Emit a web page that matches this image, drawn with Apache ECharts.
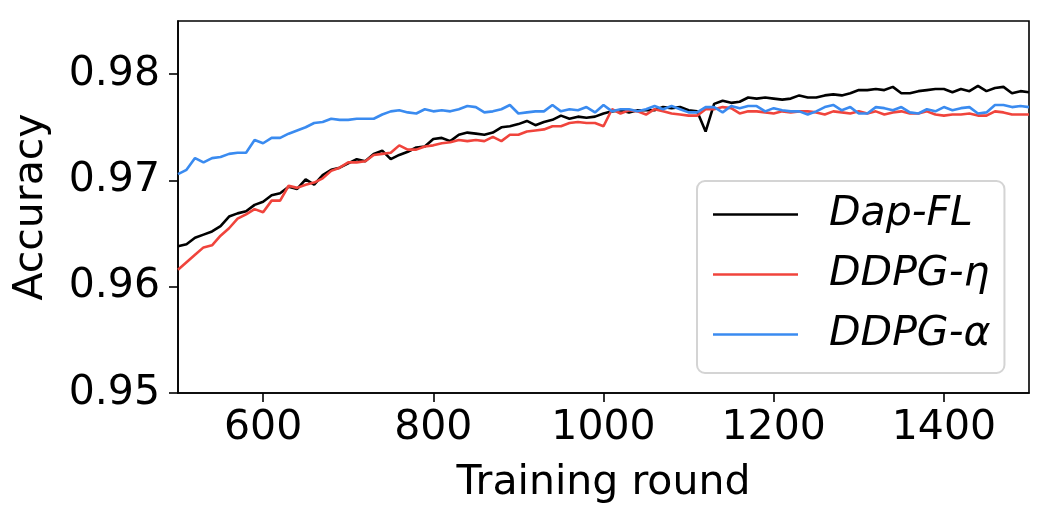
<!DOCTYPE html>
<html lang="en">
<head>
<meta charset="UTF-8">
<title>Accuracy vs training round</title>
<script src="https://cdn.jsdelivr.net/npm/echarts@6/dist/echarts.min.js"></script>
<style>
  html, body { margin: 0; padding: 0; background: #fff; }
  #main { width: 1047px; height: 526px; }
</style>
</head>
<body>
<div id="main"></div>
<script type="text/javascript">
// training rounds (sampled every 10 rounds)
var rounds = [500,510,520,530,540,550,560,570,580,590,600,610,620,630,640,650,660,670,680,690,
  700,710,720,730,740,750,760,770,780,790,800,810,820,830,840,850,860,870,880,890,
  900,910,920,930,940,950,960,970,980,990,1000,1010,1020,1030,1040,1050,1060,1070,1080,1090,
  1100,1110,1120,1130,1140,1150,1160,1170,1180,1190,1200,1210,1220,1230,1240,1250,1260,1270,1280,1290,
  1300,1310,1320,1330,1340,1350,1360,1370,1380,1390,1400,1410,1420,1430,1440,1450,1460,1470,1480,1490,1500];

var dapFL = [0.9638,0.9640,0.9646,0.9649,0.9652,0.9657,0.9666,0.9669,0.9671,0.9677,
  0.9680,0.9686,0.9688,0.9694,0.9692,0.9701,0.9696,0.9705,0.9710,0.9712,
  0.9716,0.9720,0.9718,0.9725,0.9728,0.9720,0.9724,0.9727,0.9731,0.9732,
  0.9739,0.9740,0.9737,0.9743,0.9745,0.9744,0.9743,0.9745,0.9750,0.9751,
  0.9753,0.9756,0.9752,0.9755,0.9757,0.9761,0.9758,0.9760,0.9759,0.9760,
  0.9763,0.9765,0.9766,0.9764,0.9766,0.9766,0.9766,0.9769,0.9768,0.9769,
  0.9766,0.9765,0.9746,0.9772,0.9775,0.9773,0.9774,0.9778,0.9777,0.9778,
  0.9777,0.9776,0.9777,0.9780,0.9778,0.9778,0.9780,0.9781,0.9780,0.9782,
  0.9785,0.9785,0.9786,0.9785,0.9788,0.9782,0.9782,0.9784,0.9785,0.9786,
  0.9786,0.9783,0.9786,0.9784,0.9789,0.9784,0.9787,0.9788,0.9782,0.9784,0.9783];

var ddpgEta = [0.9616,0.9623,0.9630,0.9637,0.9639,0.9648,0.9655,0.9664,0.9668,0.9673,
  0.9670,0.9681,0.9681,0.9695,0.9693,0.9696,0.9698,0.9702,0.9709,0.9712,
  0.9717,0.9717,0.9718,0.9724,0.9725,0.9726,0.9733,0.9729,0.9729,0.9732,
  0.9733,0.9735,0.9736,0.9738,0.9737,0.9738,0.9737,0.9741,0.9737,0.9743,
  0.9743,0.9746,0.9747,0.9748,0.9751,0.9751,0.9754,0.9755,0.9754,0.9754,
  0.9751,0.9767,0.9763,0.9766,0.9765,0.9762,0.9767,0.9765,0.9763,0.9762,
  0.9761,0.9761,0.9767,0.9767,0.9769,0.9768,0.9763,0.9765,0.9765,0.9764,
  0.9763,0.9765,0.9764,0.9765,0.9765,0.9764,0.9762,0.9765,0.9764,0.9763,
  0.9765,0.9763,0.9765,0.9762,0.9764,0.9765,0.9763,0.9763,0.9765,0.9762,
  0.9761,0.9762,0.9762,0.9763,0.9761,0.9761,0.9765,0.9764,0.9762,0.9762,0.9762];

var ddpgAlpha = [0.9706,0.9710,0.9721,0.9717,0.9721,0.9722,0.9725,0.9726,0.9726,0.9738,
  0.9735,0.9740,0.9740,0.9744,0.9747,0.9750,0.9754,0.9755,0.9758,0.9757,
  0.9757,0.9758,0.9758,0.9758,0.9762,0.9765,0.9766,0.9764,0.9763,0.9767,
  0.9765,0.9766,0.9765,0.9767,0.9770,0.9769,0.9764,0.9765,0.9767,0.9771,
  0.9763,0.9764,0.9765,0.9765,0.9771,0.9765,0.9767,0.9766,0.9769,0.9764,
  0.9771,0.9765,0.9767,0.9767,0.9765,0.9767,0.9770,0.9767,0.9770,0.9767,
  0.9764,0.9764,0.9769,0.9769,0.9764,0.9770,0.9768,0.9770,0.9770,0.9765,
  0.9768,0.9766,0.9765,0.9765,0.9762,0.9765,0.9769,0.9771,0.9766,0.9769,
  0.9763,0.9763,0.9769,0.9768,0.9766,0.9769,0.9764,0.9763,0.9767,0.9765,
  0.9769,0.9766,0.9768,0.9769,0.9763,0.9764,0.9771,0.9771,0.9769,0.9770,0.9769];

var seriesNames = ['Dap-FL', 'DDPG-η', 'DDPG-α'];
var seriesColors = ['#000000', '#f0443c', '#3a8bf0'];
var xTicks = [600, 800, 1000, 1200, 1400];
var yTicks = [0.95, 0.96, 0.97, 0.98];

function pairs(ys) {
  var out = [];
  for (var i = 0; i < rounds.length; i++) out.push([rounds[i], ys[i]]);
  return out;
}

function lineSeries(idx, ys) {
  return {
    name: seriesNames[idx], type: 'line', data: pairs(ys),
    symbol: 'none', showSymbol: false,
    lineStyle: { color: seriesColors[idx], width: 2.6 },
    itemStyle: { color: seriesColors[idx] }
  };
}

var font = 'DejaVu Sans';
var fs = 41;
var myChart = echarts.init(document.getElementById('main'));
var option = {
  animation: false,
  backgroundColor: '#fff',
  grid: {
    left: 178, right: 18, top: 21, bottom: 133,
    show: true, borderColor: '#000', borderWidth: 1.6, backgroundColor: 'transparent'
  },
  legend: {
    orient: 'vertical',
    left: 697, top: 181,
    data: seriesNames,
    icon: 'rect',
    itemWidth: 85, itemHeight: 2.6, itemGap: 19,
    padding: [13, 14, 18, 16],
    backgroundColor: '#fff',
    borderColor: '#d4d4d4', borderWidth: 2, borderRadius: 8,
    textStyle: { fontFamily: font, fontSize: fs, fontStyle: 'italic', color: '#000',
                 lineHeight: 41, padding: [0, 0, 0, 26] }
  },
  xAxis: {
    type: 'value', min: 500, max: 1500,
    name: 'Training round', nameLocation: 'middle', nameGap: 70,
    nameTextStyle: { fontFamily: font, fontSize: fs, color: '#000' },
    axisLine: { show: true, onZero: false, lineStyle: { color: '#000', width: 1.6 } },
    axisTick: { show: true, length: 9, lineStyle: { color: '#000', width: 1.6 }, customValues: xTicks },
    axisLabel: { fontFamily: font, fontSize: fs, color: '#000', margin: 15, customValues: xTicks,
                 formatter: function (v) { return String(v); } },
    splitLine: { show: false }
  },
  yAxis: {
    type: 'value', min: 0.95, max: 0.985,
    name: 'Accuracy', nameLocation: 'middle', nameGap: 126, nameRotate: 90,
    nameTextStyle: { fontFamily: font, fontSize: fs, color: '#000' },
    axisLine: { show: true, onZero: false, lineStyle: { color: '#000', width: 1.6 } },
    axisTick: { show: true, length: 9, lineStyle: { color: '#000', width: 1.6 }, customValues: yTicks },
    axisLabel: { fontFamily: font, fontSize: fs, color: '#000', margin: 18, customValues: yTicks,
                 formatter: function (v) { return v.toFixed(2); } },
    splitLine: { show: false }
  },
  series: [
    lineSeries(0, dapFL),
    lineSeries(1, ddpgEta),
    lineSeries(2, ddpgAlpha)
  ]
};
myChart.setOption(option);
</script>
</body>
</html>
